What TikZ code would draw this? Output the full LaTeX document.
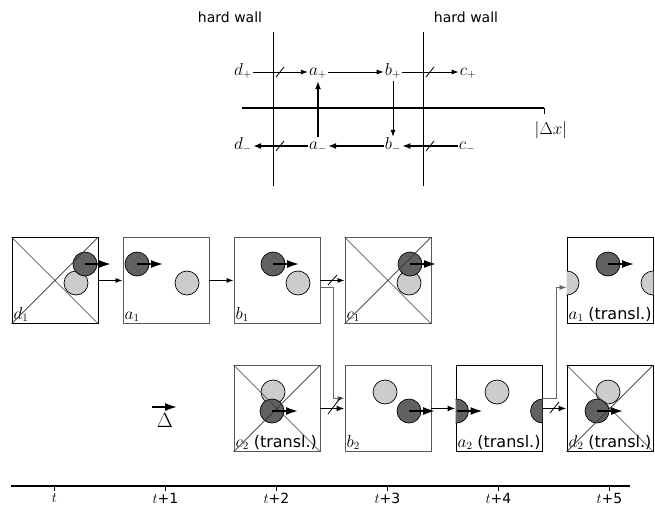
\documentclass[tikz,border=0pt]{standalone}
\usepackage{fontspec}
\newfontfamily\djs{DejaVu Sans}
\usetikzlibrary{arrows.meta,calc}
\newcommand\ballpair[5]{%
  \begin{scope}
    \clip (#1.north west) rectangle (#1.south east);
    \foreach \s in {-86,0,86}{
      \path[lightball] ($(#1.north west)+(#4,#5)+(\s,0)$) circle[radius=12];
    }
    \foreach \s in {-86,0,86}{
      \path[darkball] ($(#1.north west)+(#2,#3)+(\s,0)$) circle[radius=12];
    }
  \end{scope}
  \coordinate (#1c) at ($(#1.north west)+(#2,#3)$);
}
\begin{document}
\begin{tikzpicture}[x=1pt,y=-1pt,
  thinarrow/.style={line width=0.8pt,-{Latex[length=7pt,width=5pt]}},
  thickarrow/.style={line width=1.4pt,-{Latex[length=8pt,width=6pt]}},
  conn/.style={line width=0.9pt,-{Latex[length=7pt,width=5pt]}},
  connthick/.style={line width=1.4pt,-{Latex[length=8pt,width=6pt]}},
  connv/.style={line width=0.8pt,draw=black!60,-{Latex[length=7pt,width=5pt]}},
  vel/.style={line width=2.5pt,-{Latex[length=13pt,width=8pt]}},
  box/.style={draw=black!65,line width=0.9pt,minimum size=86pt,inner sep=0pt,anchor=north west},
  boxk/.style={box,draw=black},
  darkball/.style={draw=black,line width=0.7pt,fill=black!62},
  lightball/.style={draw=black,line width=0.7pt,fill=black!20},
  diag/.style={draw=black!80,line width=0.7pt},
  lab/.style={font=\fontsize{16}{18}\selectfont,inner sep=1pt,text height=11pt,text depth=5pt},
  hw/.style={font=\djs\fontsize{14}{16}\selectfont,inner sep=0pt},
  boxlab/.style={font=\fontsize{16}{18}\selectfont,inner sep=2pt,anchor=south west},
  tlab/.style={font=\fontsize{14}{16}\selectfont,inner sep=0pt},
  slash/.style={line width=0.8pt},
  wall/.style={line width=0.8pt}
]
\useasboundingbox (0,0) rectangle (655,506);

% ---------- top diagram ----------
\node[hw] (hw1) at (230,17) {hard wall};
\node[hw] (hw2) at (466,17) {hard wall};
\coordinate (w1a) at (273,32); \coordinate (w1b) at (273,186);
\coordinate (w2a) at (423,32); \coordinate (w2b) at (423,186);
\draw[wall] (w1a) -- (w1b);
\draw[wall] (w2a) -- (w2b);
\coordinate (ax0) at (242,108); \coordinate (ax1) at (544,108);
\draw[line width=1.3pt] (ax0) -- (ax1);
\draw[line width=0.8pt] (ax1) -- ++(0,6);
\node[lab] (dx) at (551,131) {$|\Delta x|$};

\node[lab] (dp) at (243,72) {$d_+$};
\node[lab] (ap) at (318,72) {$a_+$};
\node[lab] (bp) at (393,72) {$b_+$};
\node[lab] (cp) at (468,72) {$c_+$};
\node[lab] (dm) at (243,146) {$d_-$};
\node[lab] (am) at (318,146) {$a_-$};
\node[lab] (bm) at (393,146) {$b_-$};
\node[lab] (cm) at (467,146) {$c_-$};

\draw[thinarrow] (dp) -- (ap);
\draw[thinarrow] (ap) -- (bp);
\draw[thinarrow] (bp) -- (cp);
\draw[thinarrow] (bp.south) -- (bm.north);
\draw[thickarrow] (am.north) -- (ap.south);
\draw[thickarrow] (am) -- (dm);
\draw[thickarrow] (bm) -- (am);
\draw[thickarrow] (cm) -- (bm);
\draw[slash] (276,77) -- (284,67);
\draw[slash] (426,77) -- (434,67);
\draw[slash] (276,151) -- (284,141);
\draw[slash] (426,151) -- (434,141);

% ---------- boxes ----------
\node[boxk] (d1) at (11.5,237) {};
\node[box]  (a1) at (122.5,237) {};
\node[box]  (b1) at (233.5,237) {};
\node[box]  (c1) at (344.5,237) {};
\node[boxk] (a1t) at (566.5,237) {};
\node[box]  (c2) at (233.5,365) {};
\node[box]  (b2) at (344.5,365) {};
\node[boxk] (a2) at (455.5,365) {};
\node[boxk] (d2) at (566.5,365) {};

\ballpair{d1}{73.5}{27}{64.5}{46}
\ballpair{a1}{14.5}{27}{64.5}{46}
\ballpair{b1}{39.5}{27}{64.5}{46}
\ballpair{c1}{65.5}{27}{64.5}{46}
\ballpair{a1t}{41.5}{27}{0.5}{46}
\ballpair{c2}{38.5}{46}{39.5}{27}
\ballpair{b2}{64.5}{46}{40.5}{27}
\ballpair{a2}{1}{46}{41.5}{27}
\ballpair{d2}{30.5}{46}{41.5}{27}

\node[boxlab] (d1l) at (d1.south west) {$d_1$};
\node[boxlab] (a1l) at (a1.south west) {$a_1$};
\node[boxlab] (b1l) at (b1.south west) {$b_1$};
\node[boxlab] (c1l) at (c1.south west) {$c_1$};
\node[boxlab] (a1tl) at (a1t.south west) {$a_1$ {\djs (transl.)}};
\node[boxlab] (c2l) at (c2.south west) {$c_2$ {\djs (transl.)}};
\node[boxlab] (b2l) at (b2.south west) {$b_2$};
\node[boxlab] (a2l) at (a2.south west) {$a_2$ {\djs (transl.)}};
\node[boxlab] (d2l) at (d2.south west) {$d_2$ {\djs (transl.)}};

\foreach \b in {d1,c1,c2,d2}{
  \draw[diag] (\b.north west) -- (\b.south east) (\b.south west) -- (\b.north east);
}
\foreach \b in {d1,a1,b1,c1,a1t,c2,b2,a2,d2}{
  \draw[vel] (\b c) -- ++(27,0);
}

% ---------- connectors ----------
\draw[conn] (d1) -- (a1);
\draw[conn] (a1) -- (b1);
\draw[conn] (b1) -- (c1);
\draw[slash] (328,285) -- (337,275);
\draw[connv] ([yshift=-7pt]b1.east) -- ++(12.5,0) |- ([yshift=10pt]b2.west);
\draw[connthick] (c2) -- (b2);
\draw[slash] (328,414) -- (341,397);
\draw[connthick] (b2) -- (a2);
\draw[connthick] (a2) -- (d2);
\draw[slash] (550,413) -- (559,402);
\draw[connv] ([yshift=10pt]a2.east) -- ++(13.5,0) |- ([yshift=-7pt]a1t.west);

% ---------- Delta ----------
\node[font=\fontsize{20}{22}\selectfont,inner sep=0pt] (delta) at (165,420) {$\Delta$};
\coordinate (dv) at (152,407);
\draw[vel] (dv) -- ++(26,0);

% ---------- timeline ----------
\coordinate (tl0) at (11,486); \coordinate (tl1) at (630,486);
\draw[line width=1.3pt] (tl0) -- (tl1);
\foreach \i/\x in {0/54.5,1/165.5,2/276.5,3/387.5,4/498.5,5/609.5}{
  \coordinate (tk\i) at (\x,486);
  \draw[line width=0.8pt] (tk\i) -- ++(0,5);
}
\node[tlab] (t0) at (54.5,498) {$t$};
\node[tlab] (t1) at (165.5,498) {$t${\djs +1}};
\node[tlab] (t2) at (276.5,498) {$t${\djs +2}};
\node[tlab] (t3) at (387.5,498) {$t${\djs +3}};
\node[tlab] (t4) at (498.5,498) {$t${\djs +4}};
\node[tlab] (t5) at (609.5,498) {$t${\djs +5}};
\end{tikzpicture}
\end{document}
